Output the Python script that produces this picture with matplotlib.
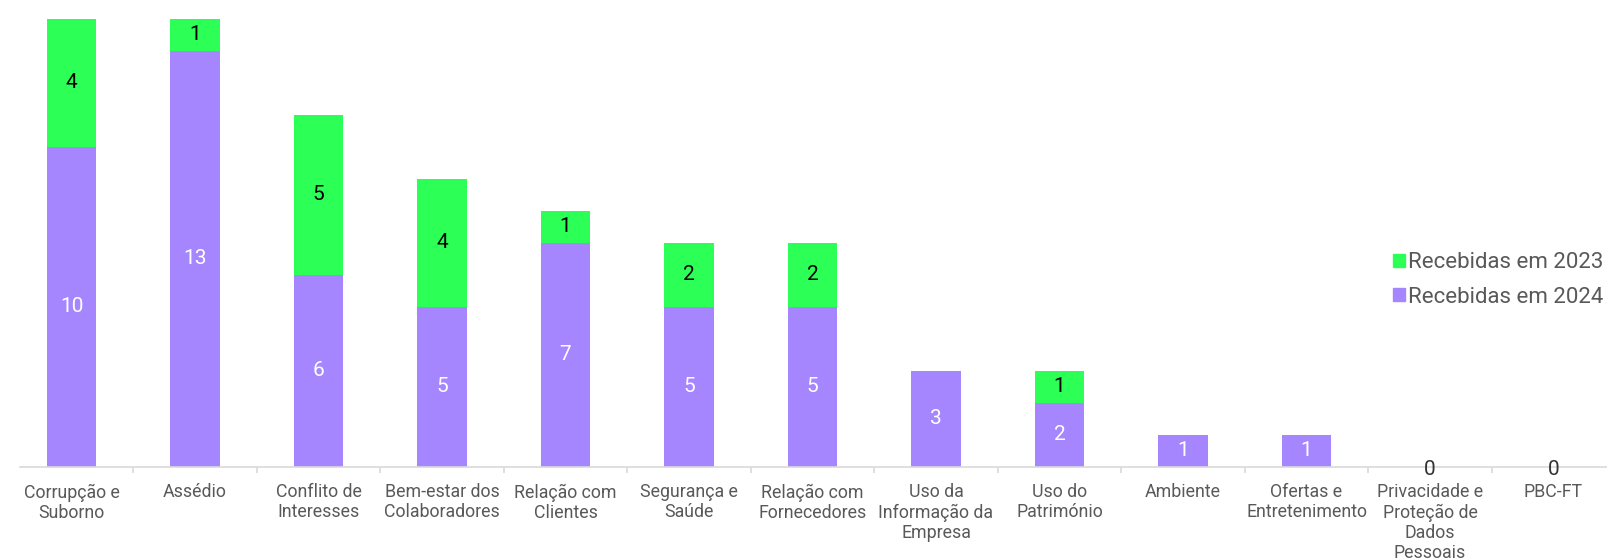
import numpy as np
import matplotlib
matplotlib.use('Agg')
import matplotlib.pyplot as plt
from matplotlib.patches import Patch

plt.rcParams['font.family'] = ['Roboto', 'DejaVu Sans']

categorias = ['Corrupção e\nSuborno', 'Assédio', 'Conflito de\nInteresses',
              'Bem-estar dos\nColaboradores', 'Relação com\nClientes',
              'Segurança e\nSaúde', 'Relação com\nFornecedores',
              'Uso da\nInformação da\nEmpresa', 'Uso do\nPatrimónio', 'Ambiente',
              'Ofertas e\nEntretenimento', 'Privacidade e\nProteção de\nDados\nPessoais',
              'PBC-FT']
recebidas_2024 = [10, 13, 6, 5, 7, 5, 5, 3, 2, 1, 1, 0, 0]
recebidas_2023 = [4, 1, 5, 4, 1, 2, 2, 0, 1, 0, 0, 0, 0]

VERDE = '#2CFF55'
ROXO = '#A586FF'
CINZA = '#595959'

W, H = 1607, 560
fig = plt.figure(figsize=(W / 100, H / 100), dpi=100)
left, right = 20 / W, 1.0
bottom, top = (H - 466.7) / H, (H - 19) / H
ax = fig.add_axes([left, bottom, right - left, top - bottom])

x = np.arange(len(categorias))
b24 = ax.bar(x, recebidas_2024, width=0.4, color=ROXO, label='Recebidas em 2024')
b23 = ax.bar(x, recebidas_2023, width=0.4, bottom=recebidas_2024, color=VERDE,
             label='Recebidas em 2023')

for rect, v in zip(b24, recebidas_2024):
    cx = rect.get_x() + rect.get_width() / 2
    if v > 0:
        ax.text(cx, v / 2, str(v), ha='center', va='center', fontsize=15, color='white')
    else:
        ax.text(cx, -0.1, '0', ha='center', va='center', fontsize=15, color='#333333')
for rect, v, b in zip(b23, recebidas_2023, recebidas_2024):
    if v > 0:
        cx = rect.get_x() + rect.get_width() / 2
        ax.text(cx, b + v / 2, str(v), ha='center', va='center', fontsize=15, color='black')

ax.set_xlim((20 - 71.5) / 123.5, (1607 - 71.5) / 123.5)
ax.set_ylim(0, 14)
ax.set_yticks([])
for s in ['top', 'right', 'left']:
    ax.spines[s].set_visible(False)
ax.spines['bottom'].set_color('#D9D9D9')
ax.spines['bottom'].set_linewidth(1.2)

ax.set_xticks(x)
ax.set_xticklabels(categorias, fontsize=12.8, color=CINZA, linespacing=1.15)
ax.tick_params(axis='x', which='major', length=0, pad=12)
ax.set_xticks(x[:-1] + 0.5, minor=True)
ax.tick_params(axis='x', which='minor', length=4, color='#D9D9D9', width=1.2)

handles = [Patch(color=VERDE, label='Recebidas em 2023'),
           Patch(color=ROXO, label='Recebidas em 2024')]
leg = fig.legend(handles=handles, loc='center left', bbox_to_anchor=(1384 / W, 1 - 280 / H),
                 frameon=False, fontsize=16, handlelength=0.55, handleheight=0.55,
                 handletextpad=0.15, labelspacing=0.6, borderaxespad=0)
for t in leg.get_texts():
    t.set_color(CINZA)

fig.savefig('out.png', dpi=100)
